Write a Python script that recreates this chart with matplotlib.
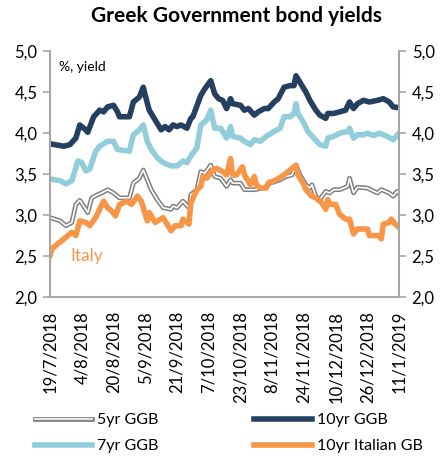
import matplotlib
matplotlib.use("Agg")
import matplotlib.pyplot as plt
import matplotlib.patheffects as pe
import pandas as pd

plt.rcParams['font.family'] = ['Lato', 'DejaVu Sans']

start = pd.Timestamp('2018-07-19')

# day offsets from 19/7/2018 and yields (%)
days_10y = [0, 7, 10, 13, 15, 18, 19, 22, 25, 27, 29, 32, 34, 35, 40, 42, 45, 47, 48, 50,
            52, 55, 56, 58, 60, 62, 64, 66, 69, 71, 72, 76, 78, 81, 83, 85, 87, 89, 91, 92,
            96, 98, 100, 103, 105, 108, 110, 113, 115, 118, 121, 123, 124, 126, 129, 131,
            134, 136, 139, 140, 143, 146, 149, 151, 153, 155, 158, 161, 165, 168, 171, 173, 176]
ggb_10y = [3.87, 3.84, 3.86, 3.94, 4.10, 4.04, 4.01, 4.20, 4.28, 4.26, 4.32, 4.34, 4.26, 4.20,
           4.20, 4.38, 4.44, 4.56, 4.46, 4.28, 4.20, 4.08, 4.04, 4.08, 4.04, 4.10, 4.08, 4.10,
           4.06, 4.18, 4.20, 4.46, 4.54, 4.64, 4.48, 4.42, 4.40, 4.30, 4.42, 4.36, 4.34, 4.28,
           4.30, 4.22, 4.26, 4.30, 4.30, 4.38, 4.42, 4.56, 4.58, 4.58, 4.70, 4.62, 4.50, 4.40,
           4.28, 4.22, 4.18, 4.24, 4.24, 4.26, 4.28, 4.38, 4.30, 4.36, 4.40, 4.38, 4.40, 4.42,
           4.38, 4.32, 4.31]

days_7y = [0, 5, 8, 11, 14, 16, 18, 20, 23, 25, 29, 32, 34, 40, 42, 45, 47, 49, 51, 54, 57,
           61, 64, 67, 69, 71, 74, 76, 79, 81, 83, 86, 89, 91, 92, 96, 98, 101, 103, 106, 109,
           113, 116, 118, 121, 123, 124, 125, 128, 130, 133, 136, 139, 140, 143, 146, 150, 151,
           153, 155, 158, 160, 163, 166, 170, 173, 176]
ggb_7y = [3.44, 3.42, 3.38, 3.42, 3.66, 3.64, 3.54, 3.56, 3.78, 3.84, 3.90, 3.90, 3.80, 3.78,
          3.98, 4.04, 4.10, 3.90, 3.80, 3.70, 3.64, 3.60, 3.60, 3.66, 3.64, 3.72, 3.82, 4.10,
          4.16, 4.28, 4.06, 4.06, 3.94, 4.08, 3.96, 3.94, 3.90, 3.86, 3.92, 3.90, 3.96, 4.02,
          4.06, 4.20, 4.20, 4.24, 4.36, 4.24, 4.12, 4.02, 3.94, 3.86, 3.84, 3.94, 3.96, 4.00,
          4.02, 4.06, 3.94, 3.98, 3.98, 4.00, 3.97, 4.00, 3.96, 3.92, 4.00]

days_5y = [0, 5, 8, 11, 13, 15, 18, 19, 21, 24, 26, 29, 32, 35, 40, 42, 45, 47, 49, 51, 54,
           57, 61, 62, 64, 67, 70, 71, 74, 76, 78, 81, 83, 86, 89, 91, 92, 96, 98, 103, 108,
           111, 116, 119, 122, 124, 126, 129, 131, 132, 134, 136, 139, 141, 143, 146, 150, 151,
           153, 155, 160, 165, 167, 171, 173, 175, 176]
ggb_5y = [2.97, 2.93, 2.87, 2.91, 3.13, 3.18, 3.07, 3.03, 3.21, 3.25, 3.27, 3.31, 3.27, 3.21,
          3.21, 3.39, 3.45, 3.55, 3.43, 3.31, 3.19, 3.09, 3.07, 3.11, 3.09, 3.17, 3.09, 3.25,
          3.31, 3.53, 3.51, 3.61, 3.47, 3.45, 3.35, 3.43, 3.39, 3.39, 3.31, 3.31, 3.33, 3.39,
          3.43, 3.47, 3.49, 3.61, 3.49, 3.37, 3.33, 3.37, 3.23, 3.19, 3.29, 3.27, 3.31, 3.31,
          3.35, 3.45, 3.27, 3.34, 3.33, 3.27, 3.31, 3.27, 3.23, 3.29, 3.26]

days_it = [0, 1, 3, 6, 8, 11, 13, 15, 18, 20, 23, 25, 27, 29, 31, 33, 35, 39, 41, 44, 46, 49,
           50, 53, 57, 61, 63, 66, 67, 70, 71, 74, 76, 77, 79, 82, 84, 87, 89, 91, 92, 94, 97,
           98, 101, 103, 104, 106, 109, 110, 114, 118, 121, 124, 125, 128, 129, 132, 134, 137,
           139, 140, 141, 144, 146, 149, 151, 153, 155, 160, 161, 166, 167, 168, 171, 172, 174, 176]
italy_10y = [2.51, 2.59, 2.63, 2.69, 2.73, 2.79, 2.75, 2.93, 2.91, 2.87, 2.97, 3.07, 3.17, 3.09,
             3.05, 2.99, 3.13, 3.17, 3.13, 3.23, 3.17, 2.93, 3.03, 2.91, 2.97, 2.81, 2.87, 2.87,
             2.95, 2.89, 3.15, 3.31, 3.35, 3.47, 3.45, 3.55, 3.57, 3.53, 3.49, 3.69, 3.49, 3.49,
             3.59, 3.49, 3.37, 3.47, 3.37, 3.33, 3.33, 3.39, 3.43, 3.49, 3.55, 3.61, 3.49, 3.37,
             3.31, 3.23, 3.21, 3.15, 3.07, 3.19, 3.13, 3.13, 3.01, 2.95, 2.95, 2.77, 2.83, 2.83,
             2.75, 2.75, 2.71, 2.89, 2.91, 2.95, 2.89, 2.85]

tick_dates = pd.date_range('2018-07-19', periods=12, freq='16D')
tick_labels = [f"{d.day}/{d.month}/{d.year}" for d in tick_dates]


def to_dates(days):
    return [start + pd.Timedelta(days=d) for d in days]


grey = '#a6a6a6'
navy = '#243f60'
light_blue = '#92cddc'
orange = '#f79646'

fig = plt.figure(figsize=(4.43, 4.57), dpi=100)
ax = fig.add_axes([0.113, 0.350, 0.788, 0.538])

lw = 4.0
ax.plot(to_dates(days_5y), ggb_5y, color='white', lw=1.2, label='5yr GGB',
        path_effects=[pe.Stroke(linewidth=3.4, foreground='#7f7f7f'), pe.Normal()])
ax.plot(to_dates(days_7y), ggb_7y, color=light_blue, lw=lw, label='7yr GGB')
ax.plot(to_dates(days_it), italy_10y, color=orange, lw=lw, label='10yr Italian GB')
ax.plot(to_dates(days_10y), ggb_10y, color=navy, lw=lw, label='10yr GGB')

ax.set_ylim(2.0, 5.0)
ax.set_xlim(start, tick_dates[-1])
yt = [2.0, 2.5, 3.0, 3.5, 4.0, 4.5, 5.0]
ylabels = [f"{v:.1f}".replace('.', ',') for v in yt]
ax.set_yticks(yt)
ax.set_yticklabels(ylabels, fontsize=12)
ax.set_xticks(tick_dates)
ax.set_xticklabels(tick_labels, rotation=90, fontsize=12)
ax.tick_params(axis='x', length=0, pad=10)
ax.tick_params(axis='y', length=5, color=grey, width=1.2, pad=4)

for side in ['left', 'right', 'bottom']:
    ax.spines[side].set_color(grey)
    ax.spines[side].set_linewidth(1.5)
ax.spines['top'].set_visible(False)

ax2 = ax.twinx()
ax2.set_ylim(2.0, 5.0)
ax2.set_yticks(yt)
ax2.set_yticklabels(ylabels, fontsize=12)
ax2.tick_params(axis='y', length=5, color=grey, width=1.2, pad=4)
for s in ax2.spines.values():
    s.set_visible(False)

ax.text(0.025, 0.96, '%, yield', transform=ax.transAxes, fontsize=10, va='top')
ax.text(start + pd.Timedelta(days=10), 2.5, 'Italy', color=orange, fontsize=12.5, va='center')

fig.text(0.534, 0.965, 'Greek Government bond yields', fontsize=15, fontweight='bold',
         ha='center', va='center')

# legend rows: 5yr / 10yr, then 7yr / 10yr Italian
handles, labels = ax.get_legend_handles_labels()
order = [0, 1, 3, 2]
fig.legend([handles[i] for i in order], [labels[i] for i in order], ncol=2,
           loc='upper left', bbox_to_anchor=(0.079, 0.096), frameon=False, fontsize=11.5,
           borderpad=0, borderaxespad=0, handlelength=3.6, columnspacing=6.0,
           handletextpad=0.3, labelspacing=0.75)

fig.savefig('out.png', dpi=100)
